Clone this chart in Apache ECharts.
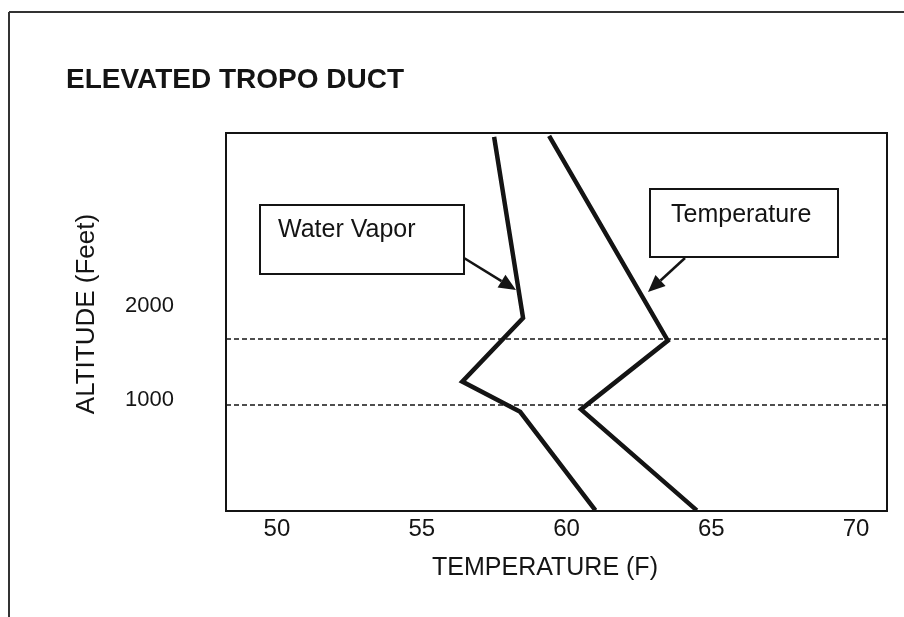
<!DOCTYPE html>
<html>
<head>
<meta charset="utf-8">
<script src="https://cdn.jsdelivr.net/npm/echarts@6/dist/echarts.min.js"></script>
<style>
html,body{margin:0;padding:0;background:#fff;}
#c{width:904px;height:617px;}
</style>
</head>
<body>
<div id="c"></div>
<script>
// ---- data ----
const titleText = 'ELEVATED TROPO DUCT';
const xTicks = [50, 55, 60, 65, 70];
const yTicks = [1000, 2000];
const vaporTemp = [57.5, 58.5, 56.4, 58.4, 61.0];
const vaporAlt  = [3790, 1870, 1195, 875, -170];
const tempTemp  = [59.4, 63.5, 60.5, 64.5];
const tempAlt   = [3800, 1630, 900, -170];
const ductAlt   = [1650, 950];
const xName = 'TEMPERATURE (F)';
const yName = 'ALTITUDE (Feet)';
const labelVapor = 'Water Vapor';
const labelTemp = 'Temperature';

const FONT = 'Arial, "Liberation Sans", sans-serif';
const INK = '#141414';

const chart = echarts.init(document.getElementById('c'), null, {renderer: 'canvas'});

function arrow(x1, y1, x2, y2) {
  const dx = x2 - x1, dy = y2 - y1, L = Math.hypot(dx, dy);
  const ux = dx / L, uy = dy / L, px = -uy, py = ux;
  const hl = 17, hw = 7.5;
  const bx = x2 - ux * hl, by = y2 - uy * hl;
  return [
    {type: 'line', shape: {x1: x1, y1: y1, x2: bx, y2: by}, style: {stroke: INK, lineWidth: 2.5}, z: 10},
    {type: 'polygon', shape: {points: [[x2, y2], [bx + px * hw, by + py * hw], [bx - px * hw, by - py * hw]]}, style: {fill: INK}, z: 10}
  ];
}

const graphics = [
  {type: 'line', shape: {x1: 9, y1: 12, x2: 904, y2: 12}, style: {stroke: '#333', lineWidth: 2}},
  {type: 'line', shape: {x1: 9, y1: 12, x2: 9, y2: 617}, style: {stroke: '#333', lineWidth: 2}},
  {type: 'rect', shape: {x: 260, y: 205, width: 204, height: 69}, style: {fill: '#fff', stroke: INK, lineWidth: 2}, z: 10},
  {type: 'text', x: 278, y: 230, style: {text: labelVapor, font: '25px ' + FONT, fill: INK, verticalAlign: 'middle'}, z: 11},
  {type: 'rect', shape: {x: 650, y: 189, width: 188, height: 68}, style: {fill: '#fff', stroke: INK, lineWidth: 2}, z: 10},
  {type: 'text', x: 671, y: 215, style: {text: labelTemp, font: '25px ' + FONT, fill: INK, verticalAlign: 'middle'}, z: 11}
].concat(arrow(464, 258, 516, 290), arrow(685, 258, 648, 292));

chart.setOption({
  animation: false,
  backgroundColor: '#fff',
  title: {
    text: titleText, left: 61, top: 61,
    textStyle: {fontFamily: FONT, fontSize: 28, fontWeight: 'bold', color: INK}
  },
  grid: {left: 226, top: 133, right: 17, bottom: 106, show: true, borderColor: INK, borderWidth: 2, backgroundColor: 'transparent'},
  xAxis: {
    type: 'value', min: 48.24, max: 71.07,
    name: xName, nameLocation: 'middle', nameGap: 45,
    nameTextStyle: {fontFamily: FONT, fontSize: 25, color: INK, padding: [0, 23, 0, 0]},
    axisLine: {show: false}, axisTick: {show: false}, splitLine: {show: false},
    axisLabel: {customValues: xTicks, fontFamily: FONT, fontSize: 24, color: INK, margin: 6}
  },
  yAxis: {
    type: 'value', min: -177, max: 3831,
    name: yName, nameLocation: 'middle', nameGap: 126, nameRotate: 90,
    nameTextStyle: {fontFamily: FONT, fontSize: 26, color: INK, padding: [0, 0, 0, 16]},
    axisLine: {show: false}, axisTick: {show: false}, splitLine: {show: false},
    axisLabel: {customValues: yTicks, formatter: v => String(v), fontFamily: FONT, fontSize: 22, color: INK, margin: 52}
  },
  series: [
    {
      type: 'line', name: labelVapor, symbol: 'none',
      data: vaporTemp.map((t, i) => [t, vaporAlt[i]]),
      lineStyle: {color: INK, width: 4.5, join: 'miter'},
      markLine: {
        silent: true, symbol: ['none', 'none'], label: {show: false},
        lineStyle: {color: INK, type: [5, 3], width: 1.6},
        data: ductAlt.map(a => ({yAxis: a}))
      }
    },
    {
      type: 'line', name: labelTemp, symbol: 'none',
      data: tempTemp.map((t, i) => [t, tempAlt[i]]),
      lineStyle: {color: INK, width: 4.5, join: 'miter'}
    }
  ],
  graphic: graphics
});
</script>
</body>
</html>
